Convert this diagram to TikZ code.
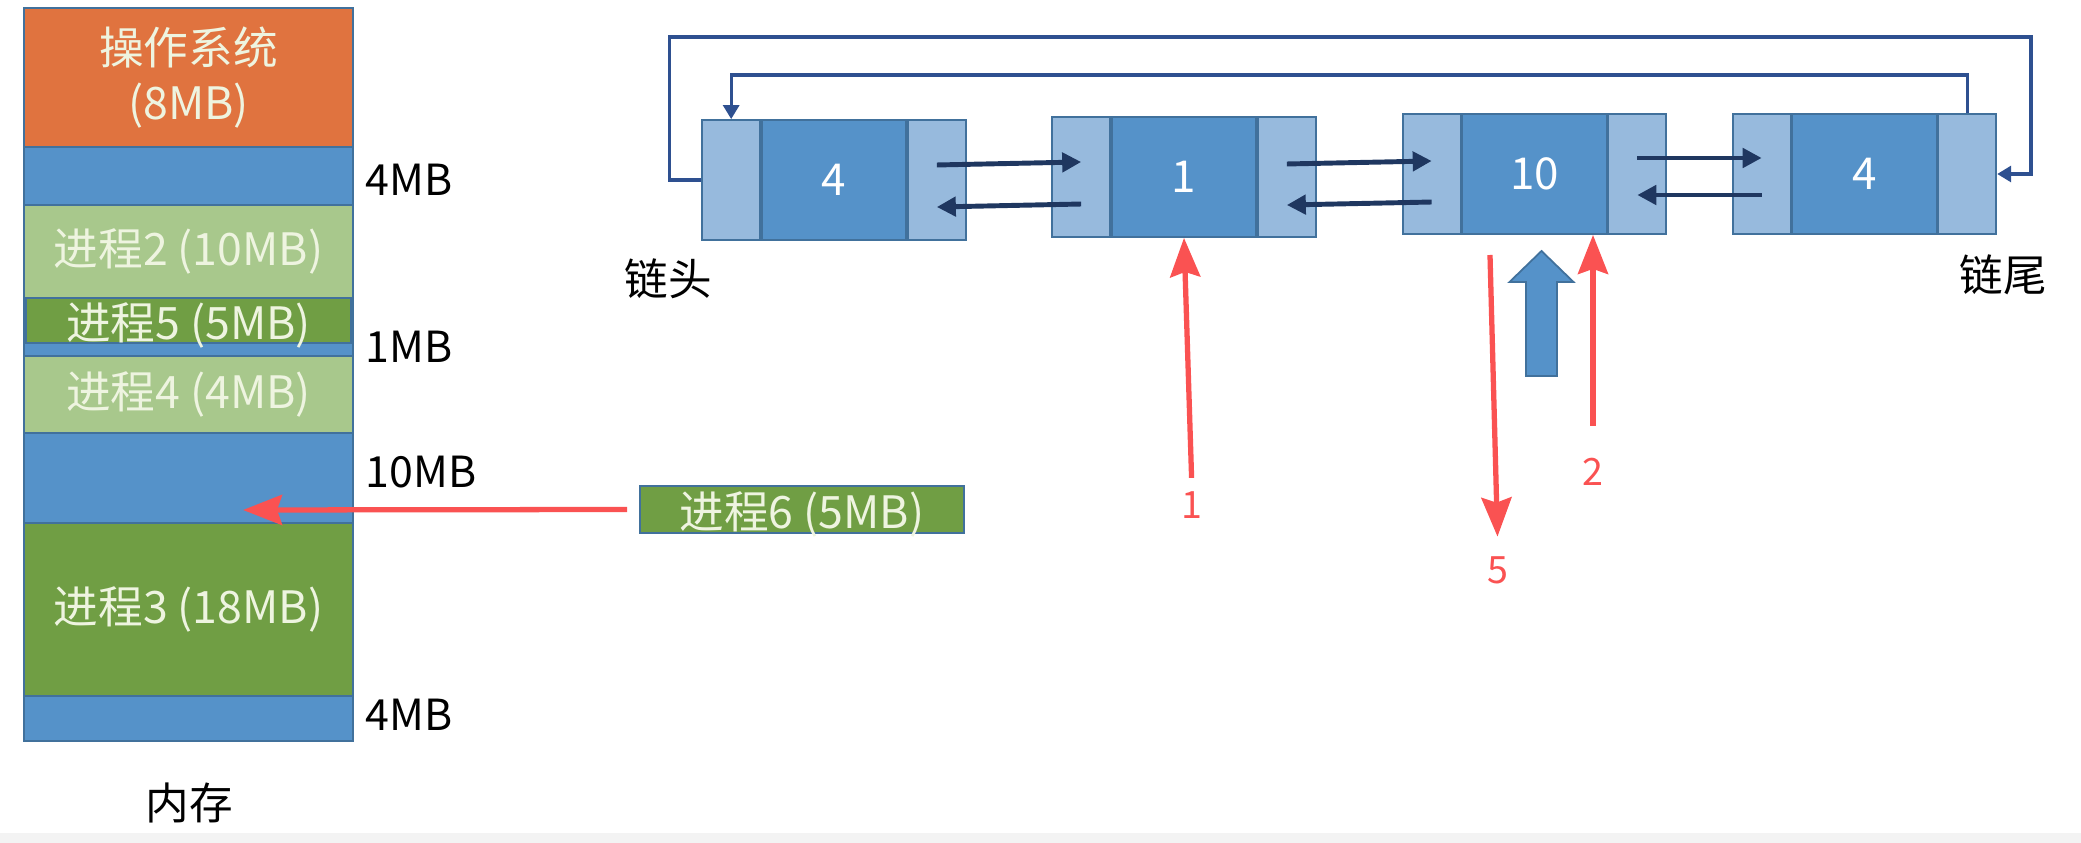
\documentclass[tikz,border=0pt]{standalone}
\usepackage{fontspec}
\setmainfont{Noto Sans CJK SC}
\usetikzlibrary{arrows.meta,positioning}

\definecolor{osorange}{HTML}{E0733F}
\definecolor{freeblue}{HTML}{5592C9}
\definecolor{ptrblue}{HTML}{97BADD}
\definecolor{lightgreen}{HTML}{A8C88C}
\definecolor{darkgreen}{HTML}{709E44}
\definecolor{blkline}{HTML}{41719C}
\definecolor{blktext}{HTML}{EEF4E0}
\definecolor{linknavy}{HTML}{1F3760}
\definecolor{loopblue}{HTML}{2E5090}
\definecolor{markred}{HTML}{FA5252}
\definecolor{bandgray}{HTML}{F3F3F3}

\begin{document}
\begin{tikzpicture}[x=0.01cm,y=-0.01cm]
\tikzset{
  memblk/.style={draw=blkline,line width=0.5pt,minimum width=32.9mm,inner sep=0pt,text=blktext,font=\fontsize{12.7}{15.6}\selectfont},
  thinblk/.style={memblk,text height=3.9mm,text depth=0.2mm},
  sizelbl/.style={anchor=west,inner sep=0pt,font=\fontsize{12.2}{14}\selectfont},
  capt/.style={inner sep=0pt,font=\fontsize{12.4}{14}\selectfont},
  ptrcell/.style={draw=blkline,line width=0.5pt,fill=ptrblue,minimum width=5.8mm,minimum height=12mm,inner sep=0pt},
  datacell/.style={draw=blkline,line width=0.5pt,fill=freeblue,minimum width=14.4mm,minimum height=12mm,inner sep=0pt,text=white,font=\fontsize{12.5}{14}\selectfont},
  linkarrow/.style={draw=linknavy,line width=1.4pt,-{Triangle[length=1.9mm,width=1.9mm]}},
  looparrow/.style={draw=loopblue,line width=0.9pt,-{Triangle[length=1.4mm,width=1.6mm]}},
  redarrow/.style={draw=markred,line width=1.5pt,-{Stealth[length=3.9mm,width=3mm,inset=0.5mm]}},
  redlbl/.style={text=markred,inner sep=0pt,font=\fontsize{10.7}{12}\selectfont}
}
\useasboundingbox (0,0) rectangle (2081,843);
\fill[bandgray] (0,833) rectangle (2081,843);
% memory column
\node[memblk,fill=osorange,minimum height=13.9mm,align=center] (n_os) at (188.5,77.5) {操作系统\\(8MB)};
\node[memblk,fill=freeblue,minimum height=5.8mm] (n_free1) at (188.5,176) {};
\node[memblk,fill=lightgreen,minimum height=9.3mm] (n_p2) at (188.5,251.5) {进程2 (10MB)};
\node[memblk,fill=freeblue,minimum height=5.8mm] (n_free2) at (188.5,327) {};
\node[thinblk,fill=darkgreen,minimum height=4.5mm,minimum width=32.5mm] (n_p5) at (188.5,320.5) {进程5 (5MB)};
\node[memblk,fill=lightgreen,minimum height=7.7mm] (n_p4) at (188.5,394.5) {进程4 (4MB)};
\node[memblk,fill=freeblue,minimum height=9mm] (n_free3) at (188.5,478) {};
\node[memblk,fill=darkgreen,minimum height=17.3mm] (n_p3) at (188.5,609.5) {进程3 (18MB)};
\node[memblk,fill=freeblue,minimum height=4.5mm] (n_free4) at (188.5,718.5) {};
\node[sizelbl] (lbl_free1) at (365,180) {4MB};
\node[sizelbl] (lbl_free2) at (365,347) {1MB};
\node[sizelbl] (lbl_free3) at (365,472) {10MB};
\node[sizelbl] (lbl_free4) at (365,715) {4MB};
\node[capt] (lbl_mem) at (189,803) {内存};
% new process
\node[thinblk,fill=darkgreen,minimum height=4.7mm,minimum width=32.4mm] (n_p6) at (802,509.5) {进程6 (5MB)};
\coordinate (drop) at (243,510);
\draw[redarrow] ([xshift=-1.2mm]n_p6.west) -- (drop);
% free list
\node[datacell] (n_D1) at (834,180) {4};
\node[ptrcell,left=0pt of n_D1] (n_L1) {};
\node[ptrcell,right=0pt of n_D1] (n_R1) {};
\node[datacell] (n_D2) at (1184,177) {1};
\node[ptrcell,left=0pt of n_D2] (n_L2) {};
\node[ptrcell,right=0pt of n_D2] (n_R2) {};
\node[datacell] (n_D3) at (1534.5,174) {10};
\node[ptrcell,left=0pt of n_D3] (n_L3) {};
\node[ptrcell,right=0pt of n_D3] (n_R3) {};
\node[datacell] (n_D4) at (1864.5,174) {4};
\node[ptrcell,left=0pt of n_D4] (n_L4) {};
\node[ptrcell,right=0pt of n_D4] (n_R4) {};
\node[capt] (lbl_head) at (668,279) {链头};
\node[capt] (lbl_tail) at (2003,275) {链尾};
\draw[linkarrow] ([yshift=1.5mm]n_R1.center) -- ([yshift=1.5mm]n_L2.center);
\draw[linkarrow] ([yshift=-2.7mm]n_L2.center) -- ([yshift=-2.7mm]n_R1.center);
\draw[linkarrow] ([yshift=1.3mm]n_R2.center) -- ([yshift=1.3mm]n_L3.center);
\draw[linkarrow] ([yshift=-2.8mm]n_L3.center) -- ([yshift=-2.8mm]n_R2.center);
\draw[linkarrow] ([yshift=1.6mm]n_R3.center) -- ([yshift=1.6mm]n_L4.center);
\draw[linkarrow] ([yshift=-2.1mm]n_L4.center) -- ([yshift=-2.1mm]n_R3.center);
\coordinate (loop_out) at (2031,37);
\draw[looparrow] (n_L1.west) -- ++(-32,0) |- (loop_out) |- (n_R4.east);
\draw[looparrow] (n_R4.north) -- ++(0,-38) -| (n_L1.north);
% pointers
\node[redlbl] (lbl_one) at (1192,505) {1};
\node[redlbl] (lbl_two) at (1593,472) {2};
\node[redlbl] (lbl_five) at (1498,570) {5};
\draw[redarrow,shorten <=1.3mm] (lbl_one.north) -- (n_D2.south);
\draw[redarrow,shorten <=3.2mm] (lbl_two.north) -- (lbl_two |- n_D3.south);
\coordinate (tail_five) at (1490,255);
\draw[redarrow,shorten >=1.9mm] (tail_five) -- (lbl_five.north);
\filldraw[fill=freeblue,draw=blkline,line width=0.5pt] (1526,376) -- (1526,282) -- (1509.5,282) -- (1541.5,251) -- (1573.5,282) -- (1557,282) -- (1557,376) -- cycle;
\end{tikzpicture}
\end{document}
